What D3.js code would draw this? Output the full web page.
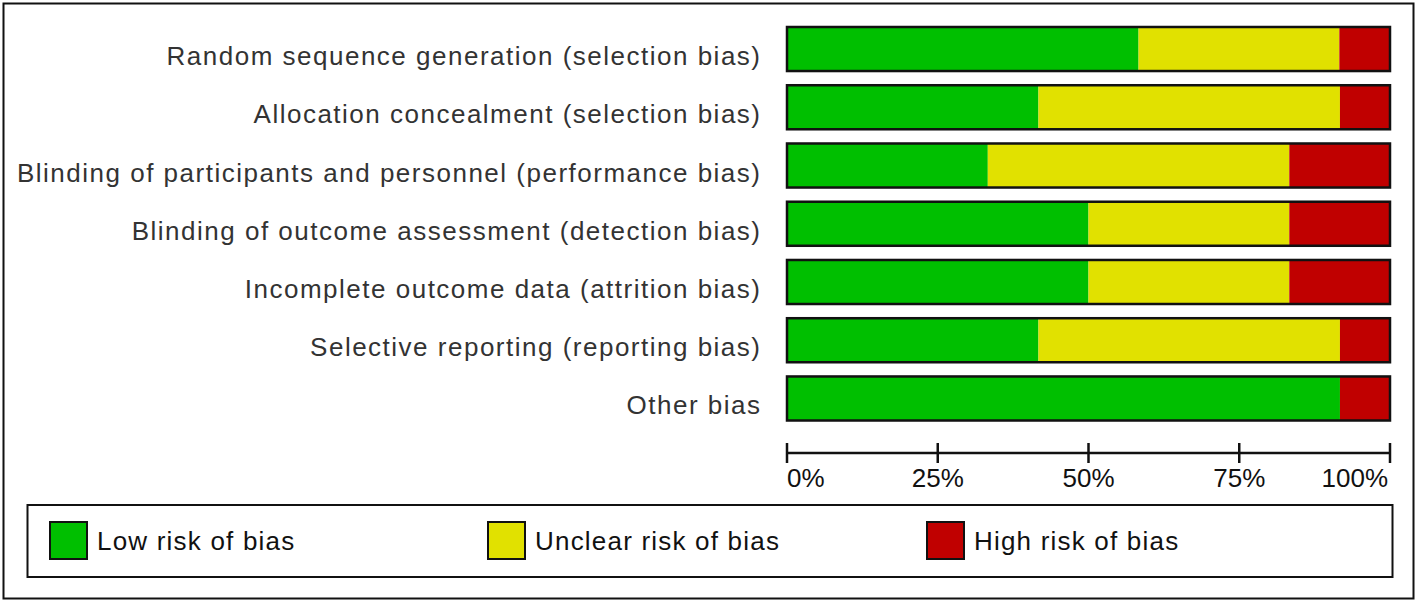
<!DOCTYPE html>
<html lang="en">
<head>
  <meta charset="UTF-8">
  <title>Risk of bias graph</title>
  <script src="https://d3js.org/d3.v7.min.js"></script>
  <style>
    body {
      margin: 0;
      background: #fff;
    }
    svg text {
      font-family: "Liberation Sans", Arial, sans-serif;
    }
    .label {
      font-size: 26px;
      fill: #333;
      letter-spacing: 1.5px;
    }
    .tick-label {
      font-size: 26px;
      fill: #111;
    }
    .legend-text {
      font-size: 26px;
      fill: #111;
      letter-spacing: 1.2px;
    }
  </style>
</head>
<body>
  <svg width="1418" height="603"></svg>

  <script>
    const domains = [
      "Random sequence generation (selection bias)",
      "Allocation concealment (selection bias)",
      "Blinding of participants and personnel (performance bias)",
      "Blinding of outcome assessment (detection bias)",
      "Incomplete outcome data (attrition bias)",
      "Selective reporting (reporting bias)",
      "Other bias"
    ];
    // percent of studies per judgement
    const lowRisk     = [58.3, 41.7, 33.3, 50.0, 50.0, 41.7, 91.7];
    const unclearRisk = [33.3, 50.0, 50.0, 33.3, 33.3, 50.0, 0];
    const highRisk    = [8.4, 8.3, 16.7, 16.7, 16.7, 8.3, 8.3];
    const seriesNames = ["Low risk of bias", "Unclear risk of bias", "High risk of bias"];
    const seriesColors = ["#00bf00", "#e1e100", "#c00000"];
    const tickValues = [0, 25, 50, 75, 100];

    const svg = d3.select("svg");

    // outer frame
    svg.append("rect")
      .attr("x", 3.5).attr("y", 3.5)
      .attr("width", 1410).attr("height", 595)
      .attr("fill", "none").attr("stroke", "#111").attr("stroke-width", 2);

    const x = d3.scaleLinear().domain([0, 100]).range([787, 1390]);
    const y = d3.scaleBand().domain(domains).range([27, 420.5]).paddingInner(0.244).paddingOuter(0);

    const table = domains.map((d, i) => ({
      domain: d,
      low: lowRisk[i],
      unclear: unclearRisk[i],
      high: highRisk[i]
    }));
    const keys = ["low", "unclear", "high"];
    const stacked = d3.stack().keys(keys)(table);

    const bars = svg.append("g");
    stacked.forEach((layer, k) => {
      bars.selectAll(".seg-" + k)
        .data(layer)
        .enter()
        .append("rect")
        .attr("class", "seg-" + k)
        .attr("x", d => x(d[0]))
        .attr("width", d => x(d[1]) - x(d[0]))
        .attr("y", d => y(d.data.domain))
        .attr("height", y.bandwidth())
        .attr("fill", seriesColors[k]);
    });

    // bar outlines
    bars.selectAll(".outline")
      .data(domains)
      .enter()
      .append("rect")
      .attr("class", "outline")
      .attr("x", x(0))
      .attr("width", x(100) - x(0))
      .attr("y", d => y(d))
      .attr("height", y.bandwidth())
      .attr("fill", "none")
      .attr("stroke", "#111")
      .attr("stroke-width", 2.5);

    svg.append("g").selectAll(".label")
      .data(domains)
      .enter()
      .append("text")
      .attr("class", "label")
      .attr("x", 761.5)
      .attr("y", d => y(d) + y.bandwidth() / 2 + 16)
      .attr("text-anchor", "end")
      .text(d => d);

    // axis
    const axisY = 453;
    const axis = svg.append("g");
    axis.append("line")
      .attr("x1", x(0)).attr("x2", x(100))
      .attr("y1", axisY).attr("y2", axisY)
      .attr("stroke", "#111").attr("stroke-width", 2.5);
    axis.selectAll(".tick")
      .data(tickValues)
      .enter()
      .append("line")
      .attr("x1", d => x(d)).attr("x2", d => x(d))
      .attr("y1", axisY - 10).attr("y2", axisY + 10)
      .attr("stroke", "#111").attr("stroke-width", 2.5);
    axis.selectAll(".tick-label")
      .data(tickValues)
      .enter()
      .append("text")
      .attr("class", "tick-label")
      .attr("x", d => d === 100 ? x(d) - 2 : x(d))
      .attr("y", 487)
      .attr("text-anchor", d => d === 0 ? "start" : d === 100 ? "end" : "middle")
      .text(d => d + "%");

    // legend
    svg.append("rect")
      .attr("x", 27.5).attr("y", 505)
      .attr("width", 1365).attr("height", 72)
      .attr("fill", "none").attr("stroke", "#111").attr("stroke-width", 2);

    const legendX = [50, 488, 927];
    const legend = svg.append("g").selectAll("g")
      .data(seriesNames)
      .enter()
      .append("g")
      .attr("transform", (d, i) => `translate(${legendX[i]},522)`);
    legend.append("rect")
      .attr("width", 37).attr("height", 37)
      .attr("fill", (d, i) => seriesColors[i])
      .attr("stroke", "#111").attr("stroke-width", 2);
    legend.append("text")
      .attr("class", "legend-text")
      .attr("x", 47)
      .attr("y", 28)
      .text(d => d);
  </script>
</body>
</html>
